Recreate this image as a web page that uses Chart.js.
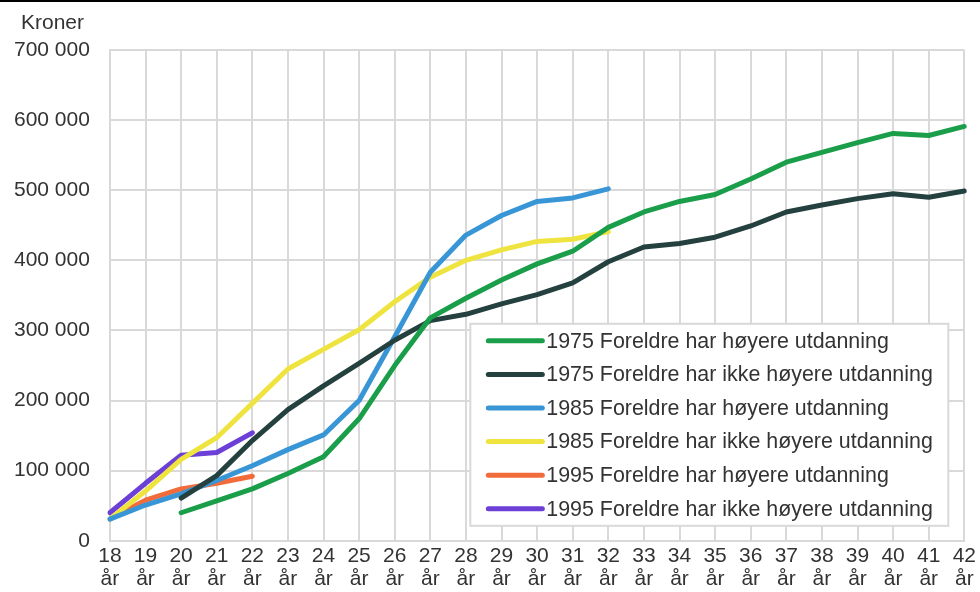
<!DOCTYPE html>
<html>
<head>
<meta charset="utf-8">
<script src="https://cdn.jsdelivr.net/npm/chart.js@4/dist/chart.umd.min.js"></script>
<style>
    html, body { margin: 0; padding: 0; background: #fff; }
    #wrap { width: 980px; height: 592px; position: relative; }
</style>
</head>
<body>
<div id="wrap"><canvas id="incomeChart" width="980" height="592"></canvas></div>
<script>
// Ages on the x axis (two-line labels: number + "år")
const ages = ['18', '19', '20', '21', '22', '23', '24', '25', '26', '27', '28', '29', '30',
    '31', '32', '33', '34', '35', '36', '37', '38', '39', '40', '41', '42'];

// Kroner (null = no data for that age)
const hoy1975 = [null, null, 40000, 57000, 74000, 96000, 120000, 174000, 250000, 318000, 346000, 372000, 395000,
    413000, 447000, 469000, 484000, 494000, 516000, 540000, 554000, 568000, 581000, 578000, 591000];
const ikke1975 = [null, null, 61000, 93000, 143000, 187000, 221000, 253000, 286000, 314000, 323000, 338000, 351000,
    368000, 398000, 419000, 424000, 433000, 449000, 469000, 479000, 488000, 495000, 490000, 499000];
const hoy1985 = [31000, 51000, 67000, 86000, 107000, 130000, 151000, 200000, 291000, 383000, 436000, 464000, 484000,
    489000, 502000];
const ikke1985 = [31000, 71000, 116000, 147000, 196000, 245000, 273000, 301000, 341000, 376000, 400000, 415000, 427000,
    430000, 441000];
const hoy1995 = [31000, 58000, 74000, 82000, 92000];
const ikke1995 = [40000, 82000, 122000, 126000, 154000];

const yTicks = [0, 100000, 200000, 300000, 400000, 500000, 600000, 700000];

const seriesLabels = [
    '1975 Foreldre har høyere utdanning',
    '1975 Foreldre har ikke høyere utdanning',
    '1985 Foreldre har høyere utdanning',
    '1985 Foreldre har ikke høyere utdanning',
    '1995 Foreldre har høyere utdanning',
    '1995 Foreldre har ikke høyere utdanning'
];
const seriesColors = ['#1a9e4a', '#24403f', '#3996d6', '#efe43f', '#f26b3a', '#6c3fd6'];
const seriesData = [hoy1975, ikke1975, hoy1985, ikke1985, hoy1995, ikke1995];

const FONT = 'Liberation Sans, Arial, sans-serif';
const TEXT = '#333333';
const GRID = '#d9d9d9';

function fmt(v) {
    return String(v).replace(/\B(?=(\d{3})+(?!\d))/g, ' ');
}

// Draws the "Kroner" unit, the top rule and the boxed legend inside the plot
const extras = {
    id: 'extras',
    afterDraw(chart) {
        const ctx = chart.ctx;
        const area = chart.chartArea;
        ctx.save();

        // top rule
        ctx.fillStyle = '#000';
        ctx.fillRect(0, 0, chart.width, 2);

        // unit label
        ctx.fillStyle = TEXT;
        ctx.font = '21px ' + FONT;
        ctx.textAlign = 'left';
        ctx.textBaseline = 'middle';
        ctx.fillText('Kroner', 21, 23);

        // legend box
        const boxW = 478, boxH = 202;
        const bx = area.right - 16 - boxW;
        const by = area.bottom - 15 - boxH;
        ctx.fillStyle = '#fff';
        ctx.fillRect(bx, by, boxW, boxH);
        ctx.strokeStyle = GRID;
        ctx.lineWidth = 2;
        ctx.strokeRect(bx, by, boxW, boxH);

        ctx.font = '21.4px ' + FONT;
        chart.data.datasets.forEach((ds, i) => {
            const cy = by + 17 + i * 33.6;
            ctx.strokeStyle = ds.borderColor;
            ctx.lineWidth = 5;
            ctx.lineCap = 'round';
            ctx.beginPath();
            ctx.moveTo(bx + 18, cy);
            ctx.lineTo(bx + 72, cy);
            ctx.stroke();
            ctx.fillStyle = TEXT;
            ctx.fillText(ds.label, bx + 76, cy + 1);
        });
        ctx.restore();
    }
};

new Chart(document.getElementById('incomeChart').getContext('2d'), {
    type: 'line',
    data: {
        labels: ages.map(a => [a, 'år']),
        datasets: seriesData.map((d, i) => ({
            label: seriesLabels[i],
            data: d,
            borderColor: seriesColors[i],
            backgroundColor: seriesColors[i],
            borderWidth: 5,
            pointRadius: 0,
            pointHoverRadius: 0,
            fill: false,
            tension: 0,
            spanGaps: false,
            borderCapStyle: 'round',
            borderJoinStyle: 'round'
        }))
    },
    options: {
        responsive: false,
        animation: false,
        devicePixelRatio: 1,
        layout: { padding: { top: 50, right: 12, left: -6, bottom: -3 } },
        plugins: {
            legend: { display: false },
            tooltip: { enabled: false }
        },
        scales: {
            x: {
                offset: false,
                grid: { color: GRID, lineWidth: 2, drawTicks: false },
                border: { color: GRID, width: 2 },
                ticks: {
                    color: TEXT,
                    font: { family: FONT, size: 21, lineHeight: 1.1 },
                    padding: 4,
                    maxRotation: 0,
                    autoSkip: false
                }
            },
            y: {
                min: 0,
                max: 700000,
                afterBuildTicks: scale => { scale.ticks = yTicks.map(v => ({ value: v })); },
                grid: { color: GRID, lineWidth: 2, drawTicks: false },
                border: { color: GRID, width: 2 },
                ticks: {
                    color: TEXT,
                    font: { family: FONT, size: 21 },
                    padding: 20,
                    callback: v => fmt(v)
                }
            }
        }
    },
    plugins: [extras]
});
</script>
</body>
</html>
